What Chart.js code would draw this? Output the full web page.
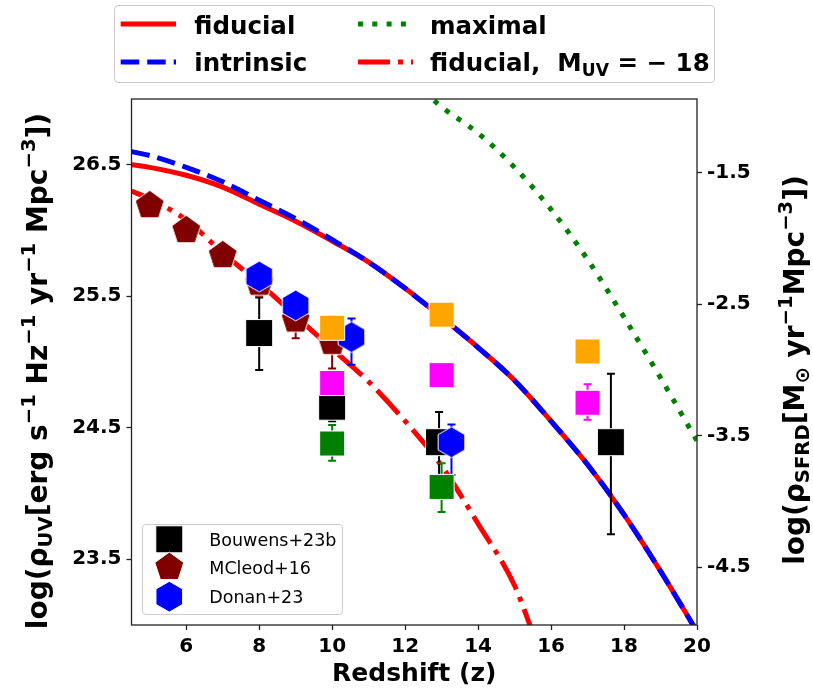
<!DOCTYPE html>
<html>
<head>
<meta charset="utf-8">
<script src="https://cdn.jsdelivr.net/npm/chart.js@4.4.1/dist/chart.umd.min.js"></script>
<style>
  html, body { margin:0; padding:0; background:#ffffff; }
  #wrap { position:relative; width:813px; height:689px; overflow:hidden; font-family:"DejaVu Sans", sans-serif; }
  #chart { position:absolute; left:0; top:0; }
  #overlay { position:absolute; left:0; top:0; pointer-events:none; }
  .txt { position:absolute; white-space:nowrap; color:#000; line-height:1; }
  .bold { font-weight:bold; }
  .legbox { position:absolute; box-sizing:border-box; border:1px solid #cccccc; border-radius:4px; background:rgba(255,255,255,0.8); }
  .ytitle { position:absolute; white-space:nowrap; font-weight:bold; font-size:28px; line-height:1; color:#000;
            transform: translate(-50%,-50%) rotate(-90deg); }
  sub, sup { font-size:70%; line-height:0; }
  sub { vertical-align:-0.28em; }
  sup { vertical-align:0.62em; }
</style>
</head>
<body>
<div id="wrap">
  <canvas id="chart" width="813" height="689"></canvas>
  <div class="legbox" style="left:114px;top:4.5px;width:601px;height:78.5px;"></div>
  <div class="legbox" style="left:141.7px;top:524px;width:201.6px;height:91px;"></div>
  <svg id="overlay" width="813" height="689" xmlns="http://www.w3.org/2000/svg"></svg>

  <div class="txt bold" style="left:194.3px;top:13.6px;font-size:24.5px;">fiducial</div>
  <div class="txt bold" style="left:194.3px;top:51.3px;font-size:24.5px;">intrinsic</div>
  <div class="txt bold" style="left:430px;top:13.6px;font-size:24.5px;">maximal</div>
  <div class="txt bold" style="left:430px;top:51.3px;font-size:24.5px;">fiducial,&nbsp; M<sub>UV</sub> = − 18</div>

  <div class="txt" style="left:209.3px;top:531.9px;font-size:17.5px;">Bouwens+23b</div>
  <div class="txt" style="left:209.3px;top:560.2px;font-size:17.5px;">MCleod+16</div>
  <div class="txt" style="left:209.3px;top:588.5px;font-size:17.5px;">Donan+23</div>

  <div class="ytitle" style="left:38px;top:371px;">log(ρ<sub>UV</sub>[erg s<sup>−1</sup> Hz<sup>−1</sup> yr<sup>−1</sup> Mpc<sup>−3</sup>])</div>
  <div class="ytitle" style="left:795px;top:370px;">log(ρ<sub>SFRD</sub>[M<sub>⊙</sub> yr<sup>−1</sup>Mpc<sup>−3</sup>])</div>
</div>

<script>
// ---------------- data ----------------
const xRange = [4.5, 20];
const yRange = [23.0, 27.0];
const sfrdOffset = 27.94;            // log(rho_UV) -> log(rho_SFRD)
const xTicks = [6, 8, 10, 12, 14, 16, 18, 20];
const yLeftTicks = [23.5, 24.5, 25.5, 26.5];
const yRightTicks = [-4.5, -3.5, -2.5, -1.5];

const zModel    = [4.5, 5, 6, 7, 8, 9, 10, 11, 12, 13, 14, 15, 16, 17, 18, 19, 20];
const fiducial  = [26.50, 26.48, 26.42, 26.33, 26.20, 26.07, 25.92, 25.76, 25.56, 25.34, 25.11, 24.86, 24.55, 24.22, 23.84, 23.41, 22.95];
const intrinsic = [26.60, 26.57, 26.48, 26.37, 26.23, 26.09, 25.93, 25.76, 25.56, 25.34, 25.11, 24.86, 24.55, 24.22, 23.84, 23.41, 22.95];

const zMaximal = [12.5, 13, 14, 15, 16, 17, 18, 19, 20];
const maximal  = [27.06, 26.94, 26.74, 26.48, 26.16, 25.78, 25.34, 24.88, 24.40];

const zM18        = [4.5, 5, 6, 7, 8, 9, 10, 11, 12, 13, 14, 15, 15.5];
const fiducialM18 = [26.30, 26.24, 26.08, 25.83, 25.60, 25.35, 25.10, 24.85, 24.55, 24.21, 23.77, 23.30, 22.94];

const bouwensZ     = [8, 10, 12.93, 17.64];
const bouwensV     = [25.22, 24.66, 24.39, 24.39];
const bouwensErrUp = [0.27, 0.11, 0.23, 0.52];
const bouwensErrDn = [0.28, 0.11, 0.25, 0.70];

const mcleodZ     = [5, 6, 7, 8, 9, 10];
const mcleodV     = [26.19, 26.00, 25.81, 25.60, 25.32, 25.15];
const mcleodErrUp = [0.05, 0.05, 0.05, 0.10, 0.14, 0.20];
const mcleodErrDn = [0.05, 0.05, 0.05, 0.10, 0.14, 0.20];

const donanZ     = [8, 9, 10.53, 13.27];
const donanV     = [25.65, 25.43, 25.19, 24.39];
const donanErrUp = [0.05, 0.05, 0.14, 0.135];
const donanErrDn = [0.05, 0.05, 0.21, 0.25];

const orangeZ = [10, 13, 17];
const orangeV = [25.26, 25.36, 25.08];

const magentaZ     = [10, 13, 17];
const magentaV     = [24.84, 24.90, 24.69];
const magentaErrUp = [0, 0, 0.14];
const magentaErrDn = [0, 0, 0.13];

const greenZ     = [10, 13];
const greenV     = [24.38, 24.05];
const greenErrUp = [0.14, 0.18];
const greenErrDn = [0.13, 0.19];

// ---------------- styles ----------------
const FONT = 'DejaVu Sans';
const C_RED = '#ff0000', C_BLUE = '#0000ff', C_GREEN = '#008000', C_MAROON = '#800000',
      C_ORANGE = '#ffa500', C_MAGENTA = '#ff00ff', C_BLACK = '#000000';
const LW = 5;
const DASHED = [18.5, 8], DOTTED = [5, 9.3], DASHDOT = [32, 8, 5, 8];

function makePoly(n, R, fill) {
  const pad = 2;
  const s = Math.ceil(2 * R + 2 * pad);
  const c = document.createElement('canvas');
  c.width = s; c.height = s;
  const g = c.getContext('2d');
  g.beginPath();
  for (let k = 0; k < n; k++) {
    const a = -Math.PI / 2 + k * 2 * Math.PI / n;
    const px = s / 2 + R * Math.cos(a), py = s / 2 + R * Math.sin(a);
    if (k) g.lineTo(px, py); else g.moveTo(px, py);
  }
  g.closePath();
  g.fillStyle = fill; g.fill();
  g.strokeStyle = '#ffffff'; g.lineWidth = 1; g.stroke();
  return c;
}
const pentImg = makePoly(5, 15.2, C_MAROON);
const hexImg = makePoly(6, 15.4, C_BLUE);

const toPts = (xs, ys) => xs.map((x, i) => ({ x: x, y: ys[i] }));

function lineDs(label, xs, ys, color, dash, order) {
  return {
    label, data: toPts(xs, ys), showLine: true, borderColor: color, backgroundColor: color,
    borderWidth: LW, borderDash: dash, borderCapStyle: 'butt', borderJoinStyle: 'round',
    pointRadius: 0, pointHoverRadius: 0, cubicInterpolationMode: 'monotone', clip: 0, order
  };
}
function markDs(label, xs, ys, up, dn, color, style, radius, order) {
  return {
    label, data: toPts(xs, ys), showLine: false, errUp: up, errDn: dn, errColor: color,
    pointStyle: style, pointRadius: radius, pointHoverRadius: radius,
    pointBackgroundColor: color, pointBorderColor: '#ffffff', pointBorderWidth: 1,
    backgroundColor: color, borderColor: '#ffffff', order
  };
}

const errorBars = {
  id: 'errorBars',
  beforeDatasetDraw(chart, args) {
    const ds = chart.data.datasets[args.index];
    if (!ds.errUp) return;
    const ctx = chart.ctx, xs = chart.scales.x, ys = chart.scales.y;
    ctx.save();
    ctx.strokeStyle = ds.errColor; ctx.lineWidth = 2;
    ds.data.forEach((p, i) => {
      const up = ds.errUp[i], dn = ds.errDn[i];
      if (!up && !dn) return;
      const px = xs.getPixelForValue(p.x);
      const y1 = ys.getPixelForValue(p.y + up), y2 = ys.getPixelForValue(p.y - dn);
      ctx.beginPath();
      ctx.moveTo(px, y1); ctx.lineTo(px, y2);
      ctx.moveTo(px - 4, y1); ctx.lineTo(px + 4, y1);
      ctx.moveTo(px - 4, y2); ctx.lineTo(px + 4, y2);
      ctx.stroke();
    });
    ctx.restore();
  }
};
const frame = {
  id: 'frame',
  afterDatasetsDraw(chart) {
    const a = chart.chartArea, ctx = chart.ctx;
    ctx.save();
    ctx.strokeStyle = '#222222'; ctx.lineWidth = 1.3;
    ctx.strokeRect(a.left, a.top, a.right - a.left, a.bottom - a.top);
    ctx.restore();
  }
};

const tickFont = { family: FONT, size: 20, weight: 'bold' };
const gridOpts = { drawOnChartArea: false, drawTicks: true, tickLength: 5, tickWidth: 1.3, tickColor: '#222222' };

new Chart(document.getElementById('chart'), {
  type: 'scatter',
  data: {
    datasets: [
      markDs('green', greenZ, greenV, greenErrUp, greenErrDn, C_GREEN, 'rect', 17.7, 1),
      markDs('magenta', magentaZ, magentaV, magentaErrUp, magentaErrDn, C_MAGENTA, 'rect', 17.7, 2),
      markDs('orange', orangeZ, orangeV, null, null, C_ORANGE, 'rect', 17.7, 3),
      markDs('Donan+23', donanZ, donanV, donanErrUp, donanErrDn, C_BLUE, hexImg, 15, 4),
      markDs('MCleod+16', mcleodZ, mcleodV, mcleodErrUp, mcleodErrDn, C_MAROON, pentImg, 15, 5),
      markDs('Bouwens+23b', bouwensZ, bouwensV, bouwensErrUp, bouwensErrDn, C_BLACK, 'rect', 19.1, 6),
      lineDs('intrinsic', zModel, intrinsic, C_BLUE, DASHED, 10),
      lineDs('maximal', zMaximal, maximal, C_GREEN, DOTTED, 11),
      lineDs('fiducial, M_UV = -18', zM18, fiducialM18, C_RED, DASHDOT, 12),
      lineDs('fiducial', zModel, fiducial, C_RED, [], 13)
    ]
  },
  options: {
    responsive: false, animation: false, devicePixelRatio: 1, events: [],
    layout: { padding: { left: 0, right: 0, top: 99, bottom: 0 } },
    plugins: { legend: { display: false }, tooltip: { enabled: false } },
    scales: {
      x: {
        type: 'linear', position: 'bottom', min: xRange[0], max: xRange[1],
        afterBuildTicks: s => { s.ticks = xTicks.map(v => ({ value: v })); },
        afterFit: s => { s.height = 64; },
        ticks: { font: tickFont, color: '#000', padding: 4.5, maxRotation: 0, autoSkip: false, callback: v => String(v) },
        grid: gridOpts, border: { display: false },
        title: { display: true, text: 'Redshift (z)', color: '#000', font: { family: FONT, size: 25, weight: 'bold' }, padding: { top: 0, bottom: 0 } }
      },
      y: {
        type: 'linear', position: 'left', min: yRange[0], max: yRange[1],
        afterBuildTicks: s => { s.ticks = yLeftTicks.map(v => ({ value: v })); },
        afterFit: s => { s.width = 131.5; },
        ticks: { font: tickFont, color: '#000', padding: 5, autoSkip: false, callback: v => v.toFixed(1) },
        grid: gridOpts, border: { display: false }
      },
      y2: {
        type: 'linear', position: 'right', min: yRange[0] - sfrdOffset, max: yRange[1] - sfrdOffset,
        afterBuildTicks: s => { s.ticks = yRightTicks.map(v => ({ value: v })); },
        afterFit: s => { s.width = 116; },
        ticks: { font: tickFont, color: '#000', padding: 5, autoSkip: false, callback: v => v.toFixed(1) },
        grid: gridOpts, border: { display: false }
      }
    }
  },
  plugins: [errorBars, frame]
});

// ---------------- legend handles (svg) ----------------
const NS = 'http://www.w3.org/2000/svg';
const svg = document.getElementById('overlay');
function svgEl(tag, attrs) {
  const e = document.createElementNS(NS, tag);
  for (const k in attrs) e.setAttribute(k, attrs[k]);
  svg.appendChild(e);
  return e;
}
function legLine(x1, x2, y, color, dash) {
  svgEl('line', { x1, y1: y, x2, y2: y, stroke: color, 'stroke-width': LW,
    'stroke-dasharray': dash.length ? dash.join(' ') : 'none', 'stroke-linecap': 'butt' });
}
legLine(120.7, 176, 24, C_RED, []);
legLine(120.7, 176, 62, C_BLUE, DASHED);
legLine(358, 413, 24, C_GREEN, DOTTED);
legLine(358, 413, 62, C_RED, DASHDOT);

function polyPts(n, R, cx, cy) {
  const pts = [];
  for (let k = 0; k < n; k++) {
    const a = -Math.PI / 2 + k * 2 * Math.PI / n;
    pts.push((cx + R * Math.cos(a)).toFixed(2) + ',' + (cy + R * Math.sin(a)).toFixed(2));
  }
  return pts.join(' ');
}
svgEl('rect', { x: 169.3 - 13.5, y: 539.3 - 13.5, width: 27, height: 27, fill: C_BLACK, stroke: '#ffffff', 'stroke-width': 1 });
svgEl('polygon', { points: polyPts(5, 15.2, 169.3, 567.3), fill: C_MAROON, stroke: '#ffffff', 'stroke-width': 1 });
svgEl('polygon', { points: polyPts(6, 15.4, 169.3, 596.7), fill: C_BLUE, stroke: '#ffffff', 'stroke-width': 1 });
</script>
</body>
</html>
